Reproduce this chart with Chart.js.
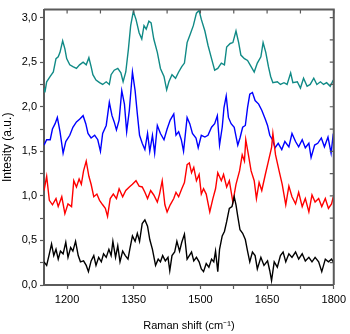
<!DOCTYPE html>
<html>
<head>
<meta charset="utf-8">
<script src="https://cdn.jsdelivr.net/npm/chart.js@4.4.1/dist/chart.umd.min.js"></script>
<style>
  html, body { margin: 0; padding: 0; background: #fff; }
  #wrap { width: 350px; height: 334px; }
</style>
</head>
<body>
<div id="wrap"><canvas id="raman" width="350" height="334"></canvas></div>
<script>
// Raman spectra, values (wavenumber in cm-1, intensity a.u.)
const tealX = [1148,1150,1154,1162,1169,1175,1180,1184,1190,1195,1199,1206,1213,1221,1228,1236,1243,1249,1254,1258,1265,1273,1280,1288,1295,1299,1306,1314,1321,1326,1332,1338,1343,1349,1355,1362,1368,1373,1378,1384,1389,1395,1403,1410,1418,1424,1429,1436,1444,1451,1458,1464,1470,1473,
  1476,1484,1491,1497,1502,1510,1517,1525,1532,1539,1547,1554,1559,1567,1573,1580,1586,1591,1599,1606,1614,1621,1628,1636,1641,1647,1653,1658,1663,1673,1680,1688,1695,1703,1708,1718,1725,1732,1740,1747,1755,1762,1770,1777,1784,1792,1799];
const tealY = [2.21,2.16,2.28,2.34,2.39,2.54,2.56,2.61,2.74,2.65,2.54,2.47,2.45,2.43,2.47,2.50,2.47,2.55,2.45,2.36,2.30,2.27,2.25,2.28,2.25,2.36,2.41,2.43,2.38,2.28,2.39,2.65,2.91,3.07,2.98,2.83,2.76,2.91,2.87,2.96,2.94,2.76,2.61,2.43,2.34,2.19,2.28,2.36,2.32,2.39,2.45,2.49,2.72,2.76,
  2.80,2.91,3.05,3.08,2.98,2.85,2.69,2.54,2.41,2.43,2.49,2.47,2.67,2.71,2.72,2.85,2.72,2.58,2.54,2.52,2.45,2.39,2.49,2.56,2.72,2.61,2.45,2.34,2.27,2.28,2.25,2.27,2.25,2.38,2.27,2.28,2.21,2.32,2.23,2.25,2.32,2.25,2.28,2.25,2.27,2.23,2.30];

const blueX = [1148,1154,1162,1167,1173,1178,1184,1191,1197,1206,1213,1221,1228,1236,1242,1247,1254,1262,1269,1275,1280,1288,1295,1301,1306,1311,1317,1323,1329,1334,1340,1347,1353,1358,1363,1369,1375,1381,1386,1392,1397,1403,1410,1418,1425,1432,1440,1445,1451,1457,1462,1470,
  1476,1482,1490,1495,1502,1510,1517,1525,1532,1538,1543,1549,1553,1558,1563,1569,1576,1584,1589,1595,1601,1606,1611,1617,1623,1631,1638,1646,1651,1656,1662,1668,1675,1683,1690,1699,1706,1714,1721,1729,1736,1744,1749,1757,1764,1772,1779,1787,1794,1799];
const blueY = [1.57,1.63,1.63,1.75,1.81,1.88,1.72,1.48,1.61,1.68,1.77,1.83,1.86,1.90,1.81,1.70,1.65,1.68,1.63,1.50,1.70,1.79,2.05,1.90,1.83,1.74,1.85,2.18,2.03,1.72,1.96,2.39,2.18,1.92,1.68,1.59,1.52,1.70,1.50,1.68,1.48,1.79,1.70,1.63,1.75,1.85,1.92,1.68,1.72,1.63,1.50,1.88,
  1.81,1.70,1.65,1.54,1.68,1.66,1.68,1.77,1.81,1.90,1.57,1.77,1.99,2.12,1.88,1.81,1.77,1.57,1.65,1.77,1.79,1.99,2.14,2.16,2.07,2.03,1.96,1.86,1.79,1.68,1.63,1.54,1.59,1.52,1.61,1.55,1.70,1.61,1.55,1.63,1.54,1.59,1.43,1.57,1.59,1.65,1.55,1.66,1.48,1.70];

const redX = [1148,1154,1160,1167,1175,1180,1188,1195,1202,1210,1215,1221,1227,1232,1237,1243,1249,1254,1260,1267,1273,1280,1286,1291,1297,1304,1311,1317,1325,1332,1340,1347,1355,1362,1369,1375,1381,1388,1395,1403,1408,1414,1420,1425,1432,1440,1445,1451,1458,1464,1470,
  1475,1480,1485,1491,1497,1502,1507,1513,1521,1528,1534,1539,1547,1552,1559,1565,1573,1580,1588,1594,1599,1602,1608,1614,1621,1626,1632,1638,1646,1653,1660,1663,1669,1677,1684,1692,1699,1706,1714,1721,1729,1736,1744,1751,1758,1766,1773,1781,1788,1795,1799];
const redY = [1.06,1.22,0.95,0.90,0.97,0.88,0.99,0.80,0.91,0.88,1.17,1.10,1.19,1.13,1.28,1.39,1.22,1.13,0.99,1.02,0.95,0.90,0.86,0.77,0.97,1.02,0.97,1.08,0.99,1.06,1.10,1.13,1.17,1.11,1.10,1.04,0.97,1.06,1.01,0.93,1.02,1.17,0.90,0.82,0.90,0.97,1.04,0.99,1.08,1.15,1.35,
  1.37,1.26,1.32,1.17,1.24,1.02,1.08,1.02,0.82,0.97,1.08,1.26,1.17,1.24,1.10,1.17,0.93,1.13,1.28,1.46,1.39,1.63,1.46,1.28,1.17,0.97,1.15,1.06,1.24,1.39,1.54,1.70,1.46,1.28,1.13,0.90,1.11,0.99,0.91,1.04,0.88,0.97,0.82,1.01,0.93,0.97,0.88,0.97,0.86,0.91,0.99];

const blackX = [1148,1154,1160,1165,1170,1175,1180,1185,1191,1197,1202,1208,1213,1219,1225,1230,1237,1243,1248,1254,1260,1265,1271,1277,1282,1288,1294,1299,1303,1309,1314,1319,1325,1331,1337,1341,1347,1353,1358,1363,1369,1375,1381,1386,1392,1399,1405,1410,1415,1421,1427,1431,1436,1442,1447,1453,1458,1464,1470,
  1475,1480,1485,1491,1497,1502,1507,1513,1519,1525,1530,1534,1539,1543,1549,1554,1559,1565,1571,1576,1580,1584,1589,1595,1601,1606,1611,1617,1623,1628,1636,1643,1651,1656,1660,1666,1673,1680,1686,1692,1699,1706,1714,1721,1729,1736,1744,1751,1758,1766,1773,1781,1788,1795,1799];
const blackY = [0.26,0.22,0.35,0.46,0.33,0.40,0.29,0.38,0.35,0.48,0.31,0.42,0.38,0.49,0.33,0.26,0.27,0.22,0.15,0.27,0.33,0.22,0.31,0.26,0.35,0.31,0.40,0.33,0.49,0.31,0.44,0.26,0.38,0.33,0.29,0.40,0.55,0.49,0.58,0.49,0.69,0.73,0.66,0.51,0.40,0.22,0.29,0.26,0.33,0.27,0.31,0.16,0.33,0.37,0.49,0.38,0.48,0.57,0.29,
  0.33,0.37,0.27,0.31,0.26,0.18,0.15,0.24,0.20,0.29,0.26,0.38,0.15,0.40,0.55,0.60,0.71,0.86,0.88,0.99,0.90,0.77,0.62,0.58,0.51,0.38,0.26,0.37,0.33,0.18,0.31,0.22,0.27,0.16,0.05,0.26,0.20,0.33,0.37,0.26,0.35,0.31,0.37,0.29,0.35,0.27,0.31,0.26,0.31,0.26,0.15,0.29,0.26,0.29,0.26];

const xTicks = [1200,1275,1350,1425,1500,1575,1650,1725,1800];
const yTicks = [0,0.25,0.5,0.75,1,1.25,1.5,1.75,2,2.25,2.5,2.75,3];

const axisColor = '#5a5a5a';
const font = { family: "'Liberation Sans', Arial, sans-serif", size: 11 };

function pts(xs, ys) {
    return xs.map((x, i) => ({ x: x, y: ys[i] }));
}

// top and right frame with inward ticks, like the original plot
const framePlugin = {
    id: 'frame',
    afterDraw(chart) {
        const ctx = chart.ctx;
        const a = chart.chartArea;
        const xs = chart.scales.x;
        const ys = chart.scales.y;
        ctx.save();
        ctx.strokeStyle = axisColor;
        ctx.lineWidth = 2;
        ctx.beginPath();
        ctx.moveTo(a.left, a.top);
        ctx.lineTo(a.right, a.top);
        ctx.lineTo(a.right, a.bottom);
        ctx.stroke();
        ctx.lineWidth = 1.2;
        ctx.beginPath();
        xTicks.forEach(function(v) {
            const px = xs.getPixelForValue(v);
            ctx.moveTo(px, a.top);
            ctx.lineTo(px, a.top + 4);
        });
        yTicks.forEach(function(v) {
            const py = ys.getPixelForValue(v);
            ctx.moveTo(a.right, py);
            ctx.lineTo(a.right - 4, py);
        });
        ctx.stroke();
        ctx.restore();
    }
};

new Chart(document.getElementById('raman'), {
    type: 'line',
    data: {
        datasets: [
            { data: pts(blackX, blackY), borderColor: '#000000' },
            { data: pts(redX, redY), borderColor: '#ff0000' },
            { data: pts(blueX, blueY), borderColor: '#0000ff' },
            { data: pts(tealX, tealY), borderColor: '#108a86' }
        ].map(function(d) {
            return Object.assign(d, { borderWidth: 1.4, pointRadius: 0, tension: 0, fill: false });
        })
    },
    options: {
        responsive: false,
        animation: false,
        layout: { padding: { top: 3, right: 13, left: 0, bottom: 0 } },
        plugins: {
            legend: { display: false },
            tooltip: { enabled: false }
        },
        scales: {
            x: {
                type: 'linear',
                min: 1148,
                max: 1800,
                afterBuildTicks: function(s) { s.ticks = xTicks.map(v => ({ value: v })); },
                afterFit: function(s) { s.height = 49; },
                ticks: {
                    autoSkip: false,
                    maxRotation: 0,
                    padding: 4,
                    color: '#000',
                    font: font,
                    callback: v => (v % 150 === 0 ? v : '')
                },
                grid: { drawOnChartArea: false, tickLength: 4, tickColor: axisColor, tickWidth: 1.2 },
                border: { display: true, color: axisColor, width: 2 },
                title: {
                    display: true,
                    text: 'Raman shift (cm⁻¹)',
                    color: '#000',
                    font: font,
                    padding: { top: 0, bottom: 1 }
                }
            },
            y: {
                min: 0,
                max: 3.09,
                afterBuildTicks: function(s) { s.ticks = yTicks.map(v => ({ value: v })); },
                afterFit: function(s) { s.width = 44; },
                ticks: {
                    autoSkip: false,
                    padding: 3,
                    color: '#000',
                    font: font,
                    callback: v => (Math.round(v * 100) % 50 === 0 ? v.toFixed(1).replace('.', ',') : '')
                },
                grid: { drawOnChartArea: false, tickLength: 4, tickColor: axisColor, tickWidth: 1.2 },
                border: { display: true, color: axisColor, width: 2 },
                title: {
                    display: true,
                    text: 'Intesity (a.u.)',
                    color: '#000',
                    font: { family: font.family, size: 12 },
                    padding: { top: 0, bottom: 0 }
                }
            }
        }
    },
    plugins: [framePlugin]
});
</script>
</body>
</html>
